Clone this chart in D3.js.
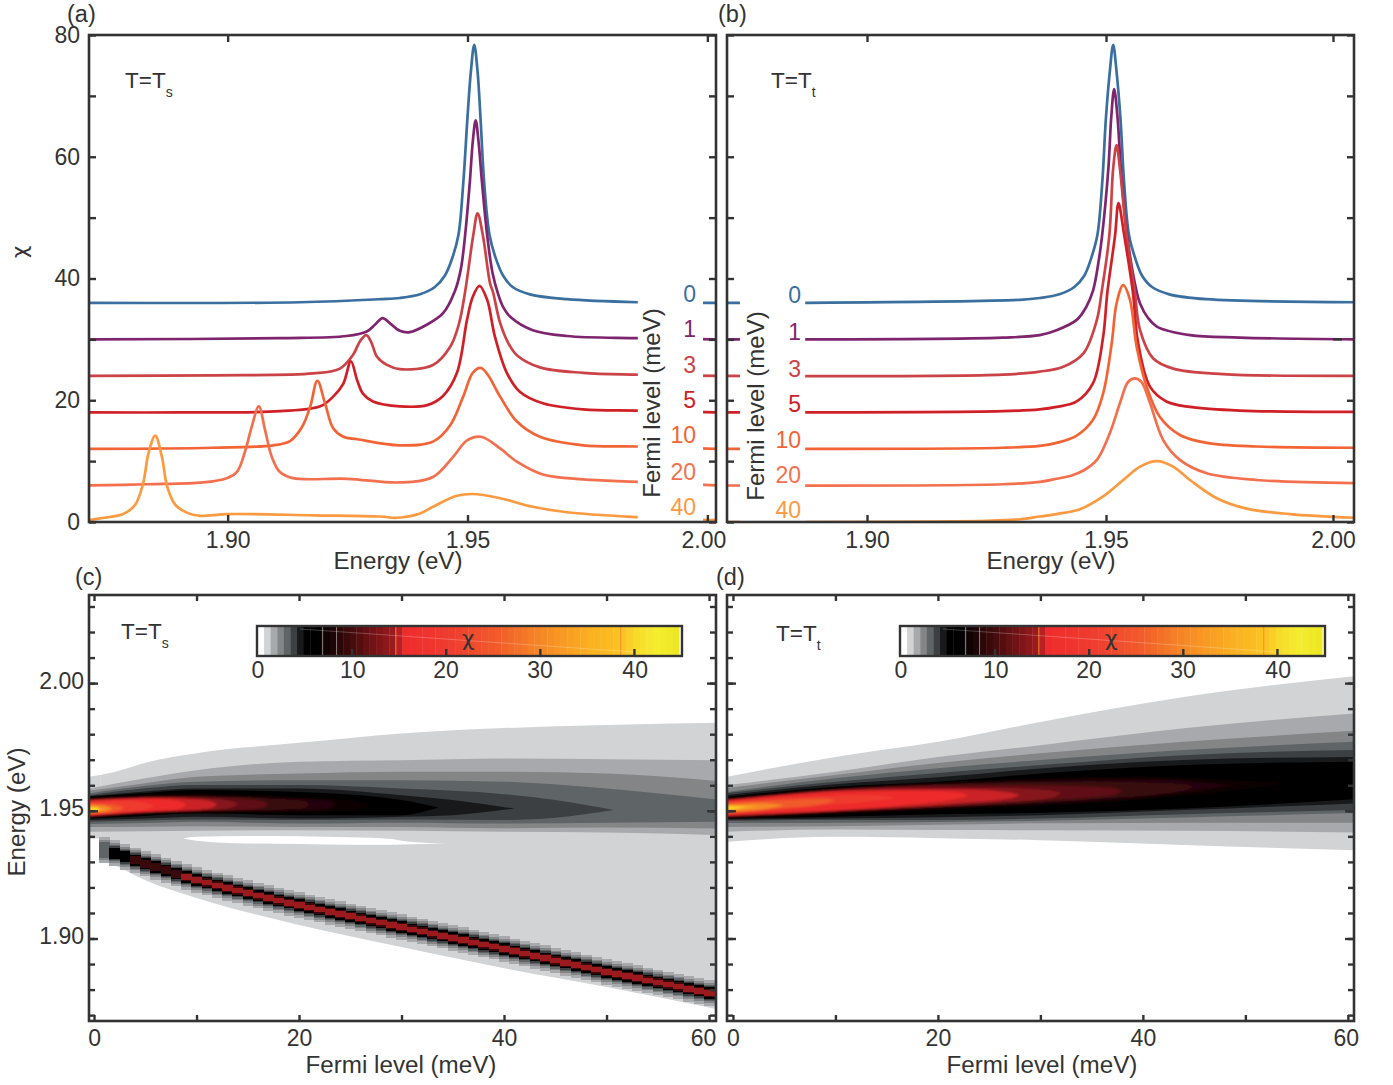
<!DOCTYPE html>
<meta charset="utf-8">
<style>
  body { margin: 0; background: #fff; }
  text { font-family: "Liberation Sans", Arial, sans-serif; fill: #333; }
  .tick line { stroke: #333; stroke-width: 2.4; }
  .tick text { font-size: 23px; fill: #333; }
</style>
<svg width="1393" height="1085"></svg>
<script src="https://d3js.org/d3.v7.min.js"></script>
<script>

// curve labels, bottom to top is 40 ... 0
var fermiLabels = ["0", "1", "3", "5", "10", "20", "40"];
var curveColors = ["#3a6f9f", "#7f2570", "#cb4347", "#cf2027", "#f26436", "#f3704e", "#fb9a40"];

// panel (a): [energy eV, chi as plotted with its offset]
var curveA0 = [[1.8711,36],[1.9151,36.1],[1.9318,36.6],[1.9359,36.8],[1.9401,37.4],[1.9432,38.6],[1.9453,40.5],[1.9468,43.3],[1.9481,47.1],[1.9491,55.5],[1.95,66.5],[1.9507,74],[1.9514,78.4],[1.9521,74],[1.9527,66.5],[1.9535,55.5],[1.9546,47.1],[1.9559,43.3],[1.9574,40.5],[1.9594,38.6],[1.963,37.4],[1.9707,36.6],[1.9855,36.1],[2.0018,36]];
var curveA1 = [[1.8711,30],[1.9109,30.2],[1.9248,30.55],[1.929,31.3],[1.9307,32.4],[1.9323,33.5],[1.9339,32.6],[1.9359,31.4],[1.938,31.2],[1.9415,32.4],[1.9449,34.3],[1.9474,38],[1.9486,41.5],[1.9495,47.1],[1.9505,56],[1.9511,62.5],[1.9517,66],[1.9523,62.5],[1.953,56],[1.9541,47.1],[1.9552,41],[1.9564,37.4],[1.9575,35.2],[1.9589,33.7],[1.9636,31.5],[1.9707,30.55],[1.9855,30.2],[2.0018,30]];
var curveA2 = [[1.8711,24],[1.897,24.1],[1.9178,24.4],[1.9234,25.2],[1.9261,27.4],[1.9276,29.7],[1.9289,30.7],[1.9299,29.6],[1.9311,27.2],[1.9332,25.8],[1.9359,25.1],[1.9428,25.8],[1.9464,28.8],[1.9482,32.5],[1.9495,37.8],[1.9512,47.1],[1.9521,50.7],[1.9532,47.1],[1.9547,39.2],[1.9553,37.8],[1.9568,32.7],[1.9585,29.4],[1.9603,27.4],[1.9651,25.4],[1.9741,24.5],[1.9855,24.2],[2.0018,24]];
var curveA3 = [[1.8711,18],[1.8901,18],[1.9109,18.2],[1.9193,19],[1.922,20.6],[1.9241,22.7],[1.9257,26.4],[1.927,23.3],[1.9282,21.1],[1.9303,19.8],[1.9359,19],[1.9416,19.2],[1.9449,20.7],[1.9478,24.5],[1.9499,33.2],[1.9511,37],[1.9525,38.8],[1.9541,36.5],[1.9557,30.5],[1.9582,24.5],[1.9609,21.4],[1.9657,19.5],[1.9741,18.5],[1.9855,18.3],[2.0018,18]];
var curveA4 = [[1.8711,12],[1.897,12.2],[1.9095,12.6],[1.913,13.3],[1.9155,15.6],[1.9172,18.9],[1.9187,23.2],[1.9203,19.5],[1.922,15.4],[1.9241,14],[1.927,13.6],[1.9359,12.6],[1.9428,13.2],[1.9464,15.9],[1.9491,20.6],[1.9511,24.5],[1.9528,25.3],[1.9543,24.1],[1.9568,20.6],[1.9603,16.5],[1.9651,14],[1.9741,12.6],[1.9855,12.4],[2.0018,12]];
var curveA5 = [[1.8711,6],[1.8832,6.2],[1.8949,6.5],[1.8998,7.2],[1.9019,8.2],[1.9036,11.5],[1.905,15.6],[1.9065,19],[1.9078,15.1],[1.9092,10.7],[1.9109,8.2],[1.9136,7.2],[1.9249,7.1],[1.9359,6.5],[1.9428,7.4],[1.947,10.7],[1.9499,13.4],[1.9528,14],[1.9568,12.1],[1.9603,9.9],[1.9657,7.8],[1.9741,7],[1.9855,6.6],[2.0018,6]];
var curveA6 = [[1.8711,0.3],[1.8734,0.6],[1.8782,1.3],[1.8807,2.8],[1.8824,6.4],[1.8835,11.3],[1.8849,14.2],[1.8863,10.7],[1.8874,5.8],[1.8891,2.8],[1.8916,1.5],[1.8943,1],[1.8999,1.3],[1.9178,1.1],[1.9318,0.9],[1.9353,0.7],[1.9401,1.4],[1.9428,2.5],[1.9478,4.3],[1.9511,4.6],[1.9568,3.9],[1.9636,2.5],[1.9707,1.6],[1.9855,0.8],[2.0018,0.3]];

// panel (b)
var curveB0 = [[1.8708,36],[1.8875,36],[1.9319,36.5],[1.936,36.8],[1.9401,37.4],[1.9432,38.6],[1.9453,40.5],[1.9467,43.3],[1.948,47.1],[1.949,55.5],[1.9498,66.5],[1.9506,74],[1.9513,78.4],[1.952,74],[1.9528,66.5],[1.9536,55.5],[1.9546,47.1],[1.9559,43.3],[1.9573,40.5],[1.9594,38.6],[1.963,37.4],[1.9707,36.6],[2.0015,36.1]];
var curveB1 = [[1.8708,30],[1.9283,30.3],[1.936,30.7],[1.9395,31.5],[1.9437,33.2],[1.9456,35.2],[1.9471,38],[1.9483,43],[1.949,47.1],[1.9503,58.1],[1.9509,66.5],[1.9515,71.1],[1.9522,66.5],[1.9529,58.1],[1.9542,47.1],[1.9562,37.8],[1.9569,35.9],[1.9585,33.6],[1.9604,32.1],[1.9673,30.7],[1.9777,30.3],[2.0015,30]];
var curveB2 = [[1.8708,24],[1.9283,24.2],[1.936,24.7],[1.9409,25.5],[1.9451,27.7],[1.9479,33.2],[1.9489,37.8],[1.9505,47.1],[1.9513,58.1],[1.952,61.9],[1.9527,58.1],[1.9541,47.1],[1.9558,37.8],[1.9569,31.5],[1.9596,26.9],[1.9638,25.2],[1.9742,24.3],[2.0015,24]];
var curveB3 = [[1.8708,18],[1.9283,18.2],[1.936,18.5],[1.9395,18.9],[1.9437,19.8],[1.9471,22.8],[1.9492,30.4],[1.9501,37.8],[1.9517,47.1],[1.9524,52.4],[1.9536,47.1],[1.9554,37.8],[1.9565,29.4],[1.959,22.2],[1.9624,19.8],[1.9673,18.9],[1.9777,18.3],[2.0015,18.1]];
var curveB4 = [[1.8708,12],[1.9283,12.2],[1.936,12.5],[1.9395,13],[1.9437,14.2],[1.9471,16.8],[1.9492,21.1],[1.951,29.4],[1.952,35.9],[1.9534,38.9],[1.9548,36.5],[1.9562,28.8],[1.9583,22.2],[1.961,17.3],[1.9652,14.3],[1.9708,13],[1.9812,12.4],[2.0015,12.2]];
var curveB5 = [[1.8708,6],[1.9283,6.2],[1.936,6.6],[1.9395,7.1],[1.9425,7.6],[1.9452,8.5],[1.9479,10.2],[1.9506,14.6],[1.9527,19.5],[1.9544,23],[1.9558,23.6],[1.9572,23],[1.959,19.5],[1.9617,13.5],[1.9652,10.2],[1.9708,8],[1.9812,6.9],[2.0015,6.4]];
var curveB6 = [[1.8708,0],[1.925,0.2],[1.9319,0.45],[1.936,0.9],[1.9395,1.3],[1.9444,2.1],[1.9492,4.2],[1.9534,6.9],[1.9569,9.1],[1.9604,10],[1.9638,9.1],[1.9673,6.9],[1.9729,3.9],[1.9791,2.2],[1.9881,1.3],[2.0015,0.7]];

// colour map of chi
var grayEdges = [0.6, 1.3, 2, 2.7, 3.4, 4.1, 4.8];
var grayColors = ["#ffffff", "#d1d3d4", "#a7a9ac", "#838587", "#5f6566", "#3c4042", "#17191b"];
var hotValues = [4.8, 6.2, 14.6, 15, 20, 25, 30, 35, 38.6, 40, 42, 45];
var hotColors = ["#000000", "#000000", "#a61c20", "#ee2b2c", "#ef3b2f", "#f15a2a", "#f68a25", "#fbb020", "#fbc423", "#f7dc2b", "#f5ec2e", "#e9e61f"];
var chiTicks = [0, 10, 20, 30, 40];
var chiSeams = [6.9, 8.4, 14.7, 38.6];

// contour levels of the maps, outermost first. rows are [Fermi level meV, upper eV, lower eV]
var chiLevels = [0.6, 1.3, 2, 2.7, 3.4, 4.1, 4.8, 7, 8, 9, 11, 13, 14.8, 15, 20, 25, 30, 35, 40];

var bandsC = [
  [[0.6,1.964,1.9315],[2,1.9652,1.9288],[5,1.9688,1.9228],[10,1.9725,1.9159],[20,1.9766,1.9053],[30,1.9803,1.8967],[40,1.9824,1.8884],[50,1.9836,1.881],[60.7,1.9845,1.8724]],
  [[-0.5,1.9587,1.9418],[5,1.9627,1.942],[10,1.9659,1.9422],[20,1.9692,1.9424],[30,1.9698,1.9422],[40,1.9705,1.9418],[50,1.9702,1.9415],[60.7,1.9698,1.9405]],
  [[-0.5,1.9578,1.9437],[5,1.9608,1.9438],[10,1.9633,1.944],[20,1.9646,1.9437],[30,1.9653,1.9437],[40,1.9653,1.9432],[50,1.9646,1.9435],[60.7,1.9617,1.9431]],
  [[-0.5,1.9568,1.9448],[5,1.9598,1.9452],[10,1.9614,1.9457],[20,1.962,1.945],[30,1.962,1.9453],[40,1.9614,1.945],[50,1.9587,1.9453],[60.7,1.9544,1.9457]],
  [[-0.5,1.9561,1.9457],[5,1.9588,1.9462],[10,1.9601,1.9466],[20,1.9601,1.9464],[30,1.9587,1.9466],[40,1.9565,1.9464],[45,1.9542,1.9473],[50.7,1.9503,1.9503]],
  [[-0.5,1.9558,1.9464],[5,1.9576,1.947],[10,1.9587,1.9477],[20,1.9587,1.947],[30,1.9561,1.9477],[35,1.9542,1.9483],[41,1.9509,1.9509]],
  [[-0.5,1.9555,1.947],[5,1.957,1.948],[10,1.9581,1.949],[20,1.9574,1.9483],[30,1.9542,1.9483],[33.6,1.9513,1.9513]],
  [[-0.5,1.9551,1.9474],[10,1.9565,1.9492],[20,1.9552,1.9492],[25,1.954,1.9502],[27,1.952,1.952]],
  [[-0.5,1.9549,1.9476],[10,1.9561,1.9495],[19,1.955,1.95],[23,1.954,1.9508],[23.5,1.9522,1.9522]],
  [[-0.5,1.9546,1.9477],[10,1.9557,1.95],[17,1.9548,1.9503],[20.5,1.9538,1.951],[21,1.9524,1.9524]],
  [[-0.5,1.9544,1.9478],[8,1.9555,1.95],[14,1.9548,1.9503],[16.5,1.9538,1.9512],[17,1.9525,1.9525]],
  [[-0.5,1.9542,1.9479],[6,1.9552,1.9497],[11,1.9548,1.9502],[13.5,1.9537,1.9514],[14,1.9526,1.9526]],
  [[-0.5,1.954,1.948],[6,1.955,1.9497],[10,1.9545,1.9503],[11.5,1.9536,1.9512],[12,1.9526,1.9526]],
  [[-0.5,1.9538,1.9482],[5,1.9547,1.9497],[7.5,1.9543,1.9503],[8.5,1.9535,1.951],[9,1.9526,1.9526]],
  [[-0.5,1.9534,1.9486],[3,1.9539,1.9495],[5,1.9532,1.9506],[6,1.952,1.952]],
  [[-0.5,1.9529,1.949],[1.5,1.9526,1.9492],[3,1.9512,1.9512]],
  [[-0.5,1.9524,1.9492],[1,1.952,1.9496],[1.8,1.9508,1.9508]],
  [[-0.5,1.9518,1.9496],[1,1.9505,1.9505]],
  [[-0.5,1.9513,1.95],[0.2,1.9513,1.95],[0.6,1.9506,1.9506]]
];

// left edge of the lightest level in (c), before the low energy line starts
var stubC = [[-0.5,1.9633,1.9392],[0.6,1.964,1.9392]];

// white sliver under the main band of (c)
var gapC = [[8.7,1.9392,1.9392],[10,1.9398,1.9383],[15,1.9401,1.9372],[20,1.94,1.937],[25,1.9396,1.9367],[29,1.939,1.9367],[30,1.9383,1.9368],[34.4,1.9372,1.9372]];

// low energy line of (c), one cell column per meV
var lineFermi = d3.range(1, 61);
var lineCenter = [1.9347,1.9334,1.932,1.9306,1.9293,1.928,1.9267,1.9254,1.9241,1.9229,1.9219,1.9208,1.9198,1.9188,1.9178,1.9168,1.9159,1.9149,1.914,1.9131,1.9122,1.9113,1.9104,1.9096,1.9087,1.9079,1.907,1.9062,1.9053,1.9045,1.9036,1.9028,1.9019,1.9011,1.9002,1.8994,1.8985,1.8976,1.8968,1.8959,1.895,1.8941,1.8932,1.8923,1.8914,1.8905,1.8896,1.8887,1.8878,1.8869,1.8861,1.8853,1.8845,1.8836,1.8828,1.882,1.8812,1.8803,1.8795,1.8787];
var linePeak = [2.7, 4.8, 7, 9, 9, 11, 11, 13];
var lineLevels = [1.3, 2, 2.7, 3.4, 4.8, 9, 14];
var lineHalfWidth = [0.005, 0.0039, 0.0032, 0.0027, 0.0022, 0.0016, 0.0011];

var bandsD = [
  [[-0.6,1.9633,1.9379],[10,1.9711,1.9398],[20,1.977,1.9393],[30,1.9848,1.9385],[44,1.9946,1.9366],[60.6,2.0027,1.9346]],
  [[-0.6,1.9601,1.9418],[10,1.9653,1.9427],[20,1.9711,1.9425],[30,1.9757,1.9424],[44,1.9823,1.9422],[60.6,1.9881,1.9415]],
  [[-0.6,1.9589,1.9437],[10,1.964,1.944],[20,1.9687,1.9445],[30,1.9725,1.9451],[44,1.977,1.9453],[60.6,1.9813,1.9453]],
  [[-0.6,1.9574,1.9452],[10,1.9627,1.9453],[20,1.9667,1.9456],[30,1.9699,1.9461],[44,1.9738,1.9474],[60.6,1.977,1.9491]],
  [[-0.6,1.957,1.9461],[10,1.9614,1.9464],[20,1.9648,1.9464],[30,1.9679,1.947],[44,1.9718,1.9487],[60.6,1.9738,1.9503]],
  [[-0.6,1.9562,1.9466],[10,1.9604,1.947],[20,1.9631,1.9475],[30,1.9666,1.9483],[44,1.9699,1.9503],[60.6,1.9711,1.9529]],
  [[-0.6,1.9555,1.947],[10,1.9594,1.9477],[20,1.9614,1.9487],[30,1.9646,1.9492],[44,1.9679,1.9509],[60.6,1.9692,1.9545]],
  [[-0.6,1.9551,1.9471],[20,1.961,1.9506],[40,1.9634,1.9544],[50,1.9617,1.9585],[54,1.9608,1.9608]],
  [[-0.6,1.9549,1.9473],[20,1.9606,1.951],[40,1.9625,1.9553],[49,1.96,1.96]],
  [[-0.6,1.9546,1.9476],[20,1.9604,1.9512],[35,1.9615,1.9545],[44,1.9605,1.958],[45,1.9595,1.9595]],
  [[-0.6,1.9544,1.9478],[20,1.96,1.9516],[30,1.96,1.954],[37,1.959,1.956],[38,1.9578,1.9578]],
  [[-0.6,1.9542,1.948],[15,1.959,1.951],[25,1.959,1.953],[31,1.958,1.955],[32,1.957,1.957]],
  [[-0.6,1.954,1.9481],[12,1.958,1.9505],[22,1.9584,1.953],[27,1.9572,1.9548],[28,1.956,1.956]],
  [[-0.6,1.9539,1.9483],[12,1.9577,1.9507],[18,1.958,1.9528],[22,1.9572,1.9548],[23,1.956,1.956]],
  [[-0.6,1.9535,1.9487],[8,1.9555,1.9518],[13,1.9562,1.9535],[16,1.955,1.955]],
  [[-0.6,1.953,1.9491],[5,1.9542,1.951],[9,1.9548,1.9528],[10,1.954,1.954]],
  [[-0.6,1.9525,1.9496],[3,1.953,1.9506],[5,1.9522,1.9522]],
  [[-0.6,1.952,1.95],[2.5,1.9518,1.9518]],
  [[-0.6,1.9517,1.9505],[1.2,1.9513,1.9513]]
];

// axis ticks
var chiAxisTicks = d3.range(0, 81, 10);
var energyTicks = [1.9, 1.95, 2];
var energyMapTicks = d3.range(1.87, 2.035, 0.01);
var energyMapMajor = [1.9, 1.95, 2];
var fermiTicks = d3.range(0, 61, 10);

var svg = d3.select("svg");

var chiHot = d3.scaleLinear().domain(hotValues).range(hotColors);
var chiGray = d3.scaleThreshold().domain(grayEdges).range(["#ffffff"].concat(grayColors.slice(1), ["#000000"]));
function chiColor(v) { return v < 4.8 ? chiGray(v) : chiHot(v); }

var defs = svg.append("defs");
defs.append("filter").attr("id", "soft").append("feGaussianBlur").attr("stdDeviation", 1.1);

function makeFrame(name, left, right, top, bottom) {
  defs.append("clipPath").attr("id", "clip-" + name).append("rect")
      .attr("x", left).attr("y", top).attr("width", right - left).attr("height", bottom - top);
  return { left: left, right: right, top: top, bottom: bottom, name: name };
}

function drawFrame(f) {
  svg.append("rect").attr("x", f.left).attr("y", f.top)
      .attr("width", f.right - f.left).attr("height", f.bottom - f.top)
      .attr("fill", "none").attr("stroke", "#333").attr("stroke-width", 2.6);
}

function addAxis(axis, x, y, labelled) {
  var g = svg.append("g").attr("transform", "translate(" + x + "," + y + ")").call(axis);
  g.select(".domain").remove();
  if (!labelled) g.selectAll("text").remove();
  return g;
}

function label(str, x, y, size, opts) {
  opts = opts || {};
  var t = svg.append("text").attr("x", x).attr("y", y).attr("font-size", size)
      .attr("text-anchor", opts.anchor || "start").text(str);
  if (opts.fill) t.style("fill", opts.fill);
  if (opts.rotate) t.attr("transform", "rotate(-90 " + x + " " + y + ")");
  if (opts.family) t.style("font-family", opts.family);
  return t;
}

function tempLabel(sub, x, y) {
  var t = label("T=T", x, y, 22.5);
  t.append("tspan").attr("font-size", 14).attr("dy", 9).text(sub);
}

// panels (a), (b)
function linePanel(f, xScale, tickScale, curves, gap, labelRight, labelBase) {
  var y = d3.scaleLinear().domain([0, 80]).range([f.bottom, f.top]);
  var line = d3.line().x(function(d) { return xScale(d[0]); }).y(function(d) { return y(d[1]); })
      .curve(d3.curveCatmullRom.alpha(0.5));

  svg.append("g").attr("clip-path", "url(#clip-" + f.name + ")")
      .selectAll("path").data(curves).enter().append("path")
      .attr("d", line).attr("fill", "none")
      .attr("stroke", function(d, i) { return curveColors[i]; })
      .attr("stroke-width", 2.7);

  svg.append("rect").attr("x", xScale(gap[0])).attr("width", xScale(gap[1]) - xScale(gap[0]))
      .attr("y", f.top + 2).attr("height", f.bottom - f.top - 3).attr("fill", "#fff");

  fermiLabels.forEach(function(s, i) {
    label(s, labelRight, labelBase[i], 23, { anchor: "end", fill: curveColors[i] });
  });
  drawFrame(f);

  var fmt = d3.format(".2f");
  addAxis(d3.axisBottom(tickScale).tickValues(energyTicks).tickSize(-7).tickPadding(10).tickFormat(fmt), 0, f.bottom, true);
  addAxis(d3.axisTop(tickScale).tickValues(energyTicks).tickSize(-7), 0, f.top, false);
  var ylab = function(d) { return d % 20 === 0 ? d : ""; };
  return { y: y, ylab: ylab };
}

var frameA = makeFrame("a", 89, 716, 35, 522);
var frameB = makeFrame("b", 727, 1354, 35, 522);
var xA = d3.scaleLinear().domain([1.8711, 2.0018]).range([89, 716]);
var xB = d3.scaleLinear().domain([1.8708, 2.0015]).range([727, 1354]);
// ticks of (b) are not evenly spaced in the original
var tickB = d3.scaleLinear().domain([1.9, 1.95, 2]).range([867, 1106, 1333]);

var pa = linePanel(frameA, xA, xA, [curveA0, curveA1, curveA2, curveA3, curveA4, curveA5, curveA6],
    [1.9855, 1.9991], 696, [302, 337, 373, 408, 443, 480, 515]);
addAxis(d3.axisLeft(pa.y).tickValues(chiAxisTicks).tickSize(-7).tickPadding(9).tickFormat(pa.ylab), frameA.left, 0, true);
addAxis(d3.axisRight(pa.y).tickValues(chiAxisTicks).tickSize(-7), frameA.right, 0, false);

var pb = linePanel(frameB, xB, tickB, [curveB0, curveB1, curveB2, curveB3, curveB4, curveB5, curveB6],
    [1.8735, 1.8871], 801, [303, 340, 377, 412, 448, 483, 518]);
addAxis(d3.axisLeft(pb.y).tickValues(chiAxisTicks).tickSize(-7), frameB.left, 0, false);
addAxis(d3.axisRight(pb.y).tickValues(chiAxisTicks.filter(function(d) { return d !== 30; })).tickSize(-7), frameB.right, 0, false);
svg.append("line").attr("x1", 1333).attr("x2", 1342).attr("y1", pb.y(30)).attr("y2", pb.y(30))
    .attr("stroke", "#333").attr("stroke-width", 2.4);

svg.selectAll(".tick text").filter(function(d) { return d === 2; }).attr("dx", function() {
  return this.getBoundingClientRect().left > 1000 ? 0 : -4;
});

// panels (c), (d)
var yE = d3.scaleLinear().domain([1.8677, 2.0345]).range([1021, 595]);

function mapPanel(f, xScale, bands) {
  var area = d3.area().x(function(d) { return xScale(d[0]); })
      .y0(function(d) { return yE(d[1]); }).y1(function(d) { return yE(d[2]); })
      .curve(d3.curveMonotoneX);
  var g = svg.append("g").attr("clip-path", "url(#clip-" + f.name + ")");
  var outer = g.append("g");
  var core = g.append("g").attr("filter", "url(#soft)");
  bands.forEach(function(rows, i) {
    var lev = chiLevels[i];
    (lev < 7 ? outer : core).append("path").attr("d", area(rows)).attr("fill", chiColor(lev));
  });
  return { g: g, outer: outer, area: area };
}

function mapAxes(f, xScale, shift) {
  drawFrame(f);
  var fx = function(d) { return d % 20 === 0 ? d : ""; };
  var bot = addAxis(d3.axisBottom(xScale).tickValues(fermiTicks).tickSize(-6).tickPadding(9).tickFormat(fx), 0, f.bottom, true);
  bot.selectAll("text").filter(function(d) { return d === 60; }).attr("dx", shift);
  addAxis(d3.axisTop(xScale).tickValues(fermiTicks).tickSize(-6), 0, f.top, false);
  addAxis(d3.axisLeft(yE).tickValues(energyMapTicks).tickSize(-6), f.left, 0, false);
  addAxis(d3.axisRight(yE).tickValues(energyMapTicks).tickSize(-6), f.right, 0, false);
  addAxis(d3.axisRight(yE).tickValues(energyMapMajor).tickSize(-9), f.right, 0, false);
  addAxis(d3.axisLeft(yE).tickValues(energyMapMajor).tickSize(-9), f.left, 0, false);
}

var frameC = makeFrame("c", 89, 716, 595, 1021);
var frameD = makeFrame("d", 727, 1354, 595, 1021);
var xC = d3.scaleLinear().domain([-0.49, 60.68]).range([89, 716]);
var xD = d3.scaleLinear().domain([-0.58, 60.6]).range([727, 1354]);

var mc = mapPanel(frameC, xC, bandsC);
mc.outer.insert("path", "path:nth-child(1)").attr("d", mc.area(stubC)).attr("fill", chiColor(0.6));
// white sliver sits on the lightest level, under the darker ones
mc.outer.insert("path", "path:nth-child(3)").attr("d", mc.area(gapC)).attr("fill", "#fff");

var cellW = xC(1) - xC(0);
var lineCells = mc.g.append("g").attr("shape-rendering", "crispEdges");
lineLevels.forEach(function(lev, k) {
  lineCells.append("g").selectAll("rect")
      .data(lineFermi.filter(function(f, i) { return lev <= (linePeak[i] || 14); }))
      .enter().append("rect")
      .attr("x", function(f) { return xC(f - 0.5); })
      .attr("width", cellW + 0.5)
      .attr("y", function(f) { return yE(lineCenter[f - 1] + lineHalfWidth[k]); })
      .attr("height", function(f) { return yE(lineCenter[f - 1] - lineHalfWidth[k]) - yE(lineCenter[f - 1] + lineHalfWidth[k]); })
      .attr("fill", chiColor(lev));
});
mapAxes(frameC, xC, -6);

mapPanel(frameD, xD, bandsD);
mapAxes(frameD, xD, -2);

var fmtE = d3.format(".2f");
var eLabels = addAxis(d3.axisLeft(yE).tickValues(energyMapMajor).tickSize(0).tickPadding(5).tickFormat(fmtE), frameC.left, 0, true);
eLabels.selectAll("text").attr("dy", "0.22em");

// colour bars
function colorBar(left) {
  var barX = d3.scaleLinear().domain([0, 45]).range([left + 0.5, left + 424]);
  var top = 626, bottom = 656;
  var g = svg.append("g");
  var bins = d3.range(0, 44.8, 0.7);
  g.selectAll("rect").data(bins).enter().append("rect")
      .attr("x", function(d) { return barX(d); })
      .attr("width", function(d) { return Math.min(barX(0.7) - barX(0) + 0.4, left + 424.5 - barX(d)); })
      .attr("y", top).attr("height", bottom - top)
      .attr("fill", function(d) { return chiColor(d + 0.35 < 0.6 ? 0.3 : d + 0.01); });
  g.selectAll("line.seam").data(chiSeams).enter().append("line")
      .attr("x1", function(d) { return barX(d); }).attr("x2", function(d) { return barX(d); })
      .attr("y1", top).attr("y2", bottom)
      .attr("stroke", function(d) { return d < 10 ? "#8a7a7a" : "#f58a2a"; }).attr("stroke-width", 1);
  g.append("line").attr("x1", barX(4.5)).attr("y1", top + 3).attr("x2", barX(40)).attr("y2", bottom - 4)
      .attr("stroke", "#fff").attr("stroke-opacity", 0.3).attr("stroke-width", 0.8);
  g.append("rect").attr("x", left).attr("y", top).attr("width", 425).attr("height", bottom - top)
      .attr("fill", "none").attr("stroke", "#333").attr("stroke-width", 2.4);
  addAxis(d3.axisBottom(barX).tickValues(chiTicks.slice(1)).tickSize(-7).tickFormat(""), 0, bottom, false);
  chiTicks.forEach(function(v) {
    label(v, barX(v) + (v === 10 || v === 40 ? 1.2 : 0.3), 678, 23, { anchor: "middle" });
  });
  label("\u03c7", left + 211, 646, 22, { anchor: "middle", family: "DejaVu Sans" });
}
colorBar(257);
colorBar(900);

// text
label("(a)", 67, 21.5, 23.5);
label("(b)", 718, 21.5, 23.5);
label("(c)", 75, 585, 23.5);
label("(d)", 716, 585, 23.5);
tempLabel("s", 125, 88);
tempLabel("t", 771, 88);
tempLabel("s", 121, 639);
tempLabel("t", 776, 641);

label("\u03c7", 27, 252, 22, { rotate: true, anchor: "middle", family: "DejaVu Sans" });
label("Energy (eV)", 398, 569, 24.2, { anchor: "middle" });
label("Energy (eV)", 1051, 569, 24.2, { anchor: "middle" });
label("Energy (eV)", 25, 812, 24.2, { anchor: "middle", rotate: true });
label("Fermi level (meV)", 401, 1073, 24.2, { anchor: "middle" });
label("Fermi level (meV)", 1042, 1073, 24.2, { anchor: "middle" });
label("Fermi level (meV)", 660, 403, 24, { anchor: "middle", rotate: true });
label("Fermi level (meV)", 764, 406, 24, { anchor: "middle", rotate: true });

</script>
